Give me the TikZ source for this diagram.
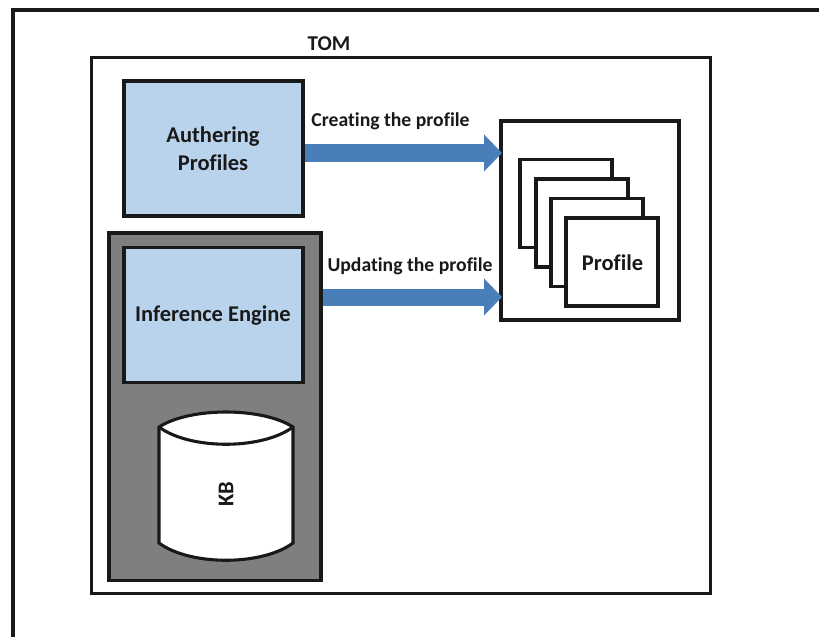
\documentclass[tikz,border=0pt]{standalone}
\usepackage{fontspec}
\setmainfont[Ligatures=NoCommon]{Carlito}
\usepackage{xcolor}
\usepackage{tikz}
\usetikzlibrary{arrows.meta}
\definecolor{boxblue}{HTML}{B9D3EC}
\definecolor{flowblue}{HTML}{4A7EB8}
\definecolor{enginegrey}{HTML}{7F7F7F}
\tikzset{
        lbl/.style={font=\bfseries\fontsize{16}{20}\selectfont, text=black!90, inner sep=0pt, align=center},
        flowlbl/.style={lbl, font=\bfseries\fontsize{14}{20}\selectfont},
        frm/.style={draw=black!90, line width=2.2pt, inner sep=0pt},
        bluebox/.style={frm, fill=boxblue, minimum width=4.475cm, minimum height=3.375cm},
        card/.style={frm, fill=white, minimum width=2.3cm, minimum height=2.2cm},
        flow/.style={draw=flowblue, line width=0.425cm, -{Triangle[length=0.45cm, width=0.9cm]}}
}

\begin{document}
\begin{tikzpicture}[x=0.025cm, y=-0.025cm]
        \useasboundingbox (0,0) rectangle (819,637);
        \coordinate (cornerl) at (13,637);
        \coordinate (cornert) at (13,10);
        \coordinate (cornerr) at (819,10);
        \draw[draw=black!90, line width=2.4pt] (cornerl) -- (cornert) -- (cornerr);
        \node[frm, minimum width=15.45cm, minimum height=13.375cm] (tom) at (401,325.5) {};
        \node[flowlbl, font=\bfseries\fontsize{15}{20}\selectfont] (tomlabel) at (329,44) {TOM};
        \node[bluebox] (authering) at (213.5,148.5) {};
        \node[lbl] (autheringlabel) at (213,149) {Authering\\Profiles};
        \node[frm, fill=enginegrey, minimum width=5.3cm, minimum height=8.675cm] (engine) at (215,406.5) {};
        \node[bluebox] (inference) at (213.5,315) {};
        \node[lbl] (inferencelabel) at (213,316) {Inference Engine};
        \draw[frm, fill=white] (159,427) .. controls (190,407) and (262,407) .. (293,427)
                -- (293,543) .. controls (262,566) and (190,566) .. (159,543) -- cycle;
        \draw[frm] (159,427) .. controls (190,450) and (262,450) .. (293,427);
        \node[lbl, rotate=90] (kb) at (226,494) {KB};
        \node[frm, fill=white, minimum width=4.45cm, minimum height=4.975cm] (store) at (590,220.5) {};
        \node[card] (card1) at (566,203.5) {};
        \node[card] (card2) at (582,223) {};
        \node[card] (card3) at (597,242.5) {};
        \node[card] (card4) at (612,262) {};
        \node[lbl] (profile) at (612.5,263) {Profile};
        \coordinate (createend) at (502,153);
        \coordinate (updateend) at (502,297);
        \draw[flow] (authering.east |- createend) -- (createend);
        \draw[flow] (engine.east |- updateend) -- (updateend);
        \node[flowlbl] (createlabel) at (390.5,121) {Creating the profile};
        \node[flowlbl] (updatelabel) at (410,266) {Updating the profile};
\end{tikzpicture}
\end{document}
